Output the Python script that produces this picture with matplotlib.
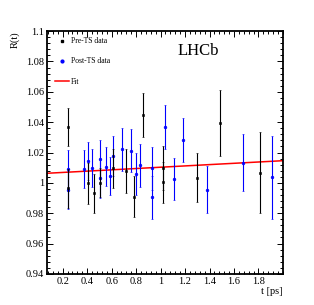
import numpy as np
import matplotlib
matplotlib.use('Agg')
import matplotlib.pyplot as plt
from matplotlib.ticker import MultipleLocator, FuncFormatter
from matplotlib.lines import Line2D

plt.rcParams['font.family'] = ['Liberation Serif', 'DejaVu Serif']

#############################################################
# Data
#############################################################
pre_t   = [0.245, 0.245, 0.405, 0.455, 0.505, 0.610, 0.720, 0.780, 0.857, 1.020, 1.020, 1.297, 1.482, 1.813]
pre_r   = [1.0370, 0.9963, 0.9997, 0.9930, 1.0000, 1.0095, 1.0078, 0.9910, 1.0447, 1.0096, 1.0004, 1.0034, 1.0396, 1.0067]
pre_err = [0.0125, 0.0130, 0.0135, 0.0130, 0.0095, 0.0130, 0.0143, 0.0138, 0.0145, 0.0145, 0.0135, 0.0160, 0.0218, 0.0267]

post_t   = [0.245, 0.245, 0.373, 0.410, 0.441, 0.504, 0.504, 0.557, 0.590, 0.612, 0.686, 0.756,
            0.797, 0.835, 0.930, 0.930, 1.039, 1.107, 1.183, 1.378, 1.672, 1.911]
post_r   = [1.0090, 0.9955, 1.0090, 1.0146, 1.0098, 1.0155, 1.0030, 1.0107, 1.0047, 1.0177, 1.0221, 1.0212,
            1.0060, 1.0116, 1.0096, 0.9905, 1.0370, 1.0025, 1.0283, 0.9955, 1.0133, 1.0037]
post_err = [0.0125, 0.0125, 0.0125, 0.0125, 0.0128, 0.0130, 0.0128, 0.0131, 0.0125, 0.0130, 0.0143, 0.0143,
            0.0140, 0.0143, 0.0140, 0.0140, 0.0145, 0.0140, 0.0145, 0.0155, 0.0187, 0.0272]

# linear fit R(t) = p0 + p1*t
fit_p0 = 1.0060
fit_p1 = 0.0043

x_ticks = [0.2, 0.4, 0.6, 0.8, 1.0, 1.2, 1.4, 1.6, 1.8]
y_ticks = [0.94, 0.96, 0.98, 1.0, 1.02, 1.04, 1.06, 1.08, 1.1]

#############################################################
# Plot
#############################################################
fig = plt.figure(figsize=(3.14, 3.05), dpi=100)
ax = fig.add_axes([0.149, 0.102, 0.752, 0.796])

xmin, xmax = 0.07, 2.0
tt = np.linspace(xmin, xmax, 50)
ax.plot(tt, fit_p0 + fit_p1*tt, color='red', lw=1.1, zorder=1)

ax.errorbar(post_t, post_r, yerr=post_err, fmt='o', color='blue', ms=2.0, mew=0.4,
            elinewidth=0.8, capsize=1.0, capthick=0.8, zorder=2)
ax.errorbar(pre_t, pre_r, yerr=pre_err, fmt='s', color='black', ms=2.0, mew=0.4,
            elinewidth=0.8, capsize=1.0, capthick=0.8, zorder=3)

ax.set_xlim(xmin, xmax)
ax.set_ylim(0.94, 1.1)
ax.set_xticks(x_ticks)
ax.set_yticks(y_ticks)
ax.xaxis.set_minor_locator(MultipleLocator(0.04))
ax.yaxis.set_minor_locator(MultipleLocator(0.004))
fmt = FuncFormatter(lambda v, p: '%g' % round(v, 3))
ax.xaxis.set_major_formatter(fmt)
ax.yaxis.set_major_formatter(fmt)
ax.tick_params(which='both', direction='in', top=True, right=True, labelsize=7.5, width=0.7)
ax.tick_params(which='major', length=4.5, pad=2)
ax.tick_params(which='minor', length=2.2)
for s in ax.spines.values():
    s.set_linewidth(1.3)

ax.set_xlabel('t [ps]', fontsize=7.5, loc='right', labelpad=1)
ax.set_ylabel('R(t)', fontsize=7.5, loc='top', labelpad=4)

ax.text(0.64, 0.92, 'LHCb', transform=ax.transAxes, fontsize=12, ha='center', va='center')

handles = [Line2D([], [], ls='none', marker='s', color='black', ms=2.0),
           Line2D([], [], ls='none', marker='o', color='blue', ms=2.0),
           Line2D([], [], color='red', lw=1.1)]
labels = ['Pre-TS data', 'Post-TS data', 'Fit']
ax.legend(handles, labels, loc='upper left', bbox_to_anchor=(0.035, 0.975), frameon=False,
          fontsize=5.5, handlelength=1.8, handletextpad=0.3, labelspacing=1.6,
          borderpad=0, borderaxespad=0)

fig.savefig('out.png', dpi=100)
